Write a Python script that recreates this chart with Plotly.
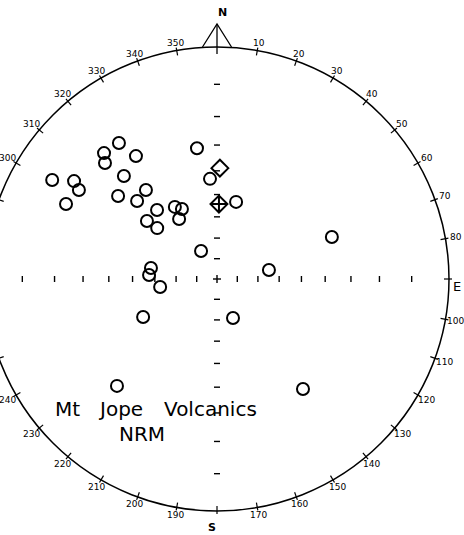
import numpy as np
import plotly.graph_objects as go

# ---- data: NRM directions (declination, inclination, degrees) ----
site_dec = [324.2, 318.1, 316.0, 326.6, 351.3, 301.0, 304.4, 302.8, 317.9, 321.4,
            296.4, 310.0, 314.3, 319.0, 329.7, 333.4, 327.7, 309.6, 310.4, 356.0,
            13.9, 330.3, 279.5, 273.4, 262.0, 242.8, 157.7, 69.9, 80.2, 223.1, 142.0]
site_inc = [18.3, 17.8, 20.4, 25.2, 30.6, 10.7, 16.5, 19.4, 28.2, 37.7,
            18.0, 31.8, 38.6, 47.0, 50.4, 52.7, 56.0, 47.2, 52.6, 43.2,
            52.2, 74.2, 57.8, 57.3, 62.2, 50.6, 69.4, 34.4, 64.4, 25.5, 27.9]
field_dec = [1.5]      # open diamond
field_inc = [38.9]
mean_dec = [1.5]       # diamond with cross
mean_inc = [54.2]
azimuth_ticks = list(range(10, 360, 10))
azimuth_labels = [str(a) for a in azimuth_ticks]
incl_ticks = [10, 20, 30, 40, 50, 60, 70, 80]

# ---- geometry (stereographic / Wulff net) ----
PX = 232.0                     # pixels per unit radius
CX, CY = 217.0, 279.0          # centre in pixels
W, H = 464, 535


def proj(dec, inc):
    d = np.radians(np.asarray(dec, float))
    r = np.tan(np.radians(90.0 - np.asarray(inc, float)) / 2.0)
    return r * np.sin(d), r * np.cos(d)


def px(x, y):
    return (x - CX) / PX, (CY - y) / PX


fig = go.Figure()

# primitive circle
fig.add_shape(type="circle", x0=-1, y0=-1, x1=1, y1=1,
              line=dict(color="black", width=1.5), layer="below")

# azimuth ticks on the primitive
tx, ty = [], []
for a in azimuth_ticks:
    t = np.radians(a)
    r0, r1 = 1 - 5 / PX, 1 + 3 / PX
    tx += [r0 * np.sin(t), r1 * np.sin(t), None]
    ty += [r0 * np.cos(t), r1 * np.cos(t), None]
fig.add_trace(go.Scatter(x=tx, y=ty, mode="lines", line=dict(color="black", width=1.2),
                         hoverinfo="skip", showlegend=False))

# inclination ticks along the axes
ax_x, ax_y = [], []
h = 3 / PX
for i in incl_ticks:
    r = float(np.tan(np.radians(90 - i) / 2))
    for s in (1, -1):
        ax_x += [-h, h, None]
        ax_y += [s * r, s * r, None]
        ax_x += [s * r, s * r, None]
        ax_y += [-h, h, None]
c = 4 / PX
ax_x += [-c, c, None, 0, 0, None]
ax_y += [0, 0, None, -c, c, None]
fig.add_trace(go.Scatter(x=ax_x, y=ax_y, mode="lines", line=dict(color="black", width=1.4),
                         hoverinfo="skip", showlegend=False))

# north arrow triangle
b = 14.5 / PX
apex = 1 + 23 / PX
fig.add_trace(go.Scatter(x=[-b, 0, b, None, 0, 0], y=[1, apex, 1, None, apex, 1 - 7 / PX],
                         mode="lines", line=dict(color="black", width=1.3),
                         hoverinfo="skip", showlegend=False))

# data
sx, sy = proj(site_dec, site_inc)
fig.add_trace(go.Scatter(x=sx, y=sy, mode="markers", showlegend=False,
                         marker=dict(symbol="circle-open", size=12, color="black",
                                     line=dict(width=2, color="black"))))
fx, fy = proj(field_dec, field_inc)
fig.add_trace(go.Scatter(x=fx, y=fy, mode="markers", showlegend=False,
                         marker=dict(symbol="diamond-open", size=13, color="black",
                                     line=dict(width=2, color="black"))))
mx, my = proj(mean_dec, mean_inc)
fig.add_trace(go.Scatter(x=mx, y=my, mode="markers", showlegend=False,
                         marker=dict(symbol="diamond-cross-open", size=13, color="black",
                                     line=dict(width=2, color="black"))))

# azimuth labels
ann = []
for a, lab in zip(azimuth_ticks, azimuth_labels):
    if a % 90 == 0:
        continue
    t = np.radians(a)
    off = (6.5 + 4 * abs(np.sin(t))) / PX
    rr = 1 + off
    ann.append(dict(x=rr * np.sin(t), y=rr * np.cos(t), text=lab, showarrow=False,
                    xanchor="center", yanchor="middle",
                    font=dict(family="DejaVu Sans", size=9, color="black")))

x, y = px(222, 12)
ann.append(dict(x=x, y=y, text="<b>N</b>", showarrow=False,
                font=dict(family="DejaVu Sans", size=11, color="black")))
x, y = px(457, 286)
ann.append(dict(x=x, y=y, text="E", showarrow=False,
                font=dict(family="DejaVu Sans", size=13, color="black")))
x, y = px(212, 527)
ann.append(dict(x=x, y=y, text="<b>S</b>", showarrow=False,
                font=dict(family="DejaVu Sans", size=11, color="black")))

title_font = dict(family="DejaVu Sans", size=20, color="black")
for txt, xp in (("Mt", 67), ("Jope", 120), ("Volcanics", 210)):
    x, y = px(xp, 409)
    ann.append(dict(x=x, y=y, text=txt, showarrow=False,
                    xanchor="center", yanchor="middle", font=title_font))
x, y = px(142, 434)
ann.append(dict(x=x, y=y, text="NRM", showarrow=False,
                xanchor="center", yanchor="middle", font=title_font))

fig.update_layout(
    width=W, height=H,
    margin=dict(l=0, r=0, t=0, b=0),
    paper_bgcolor="white", plot_bgcolor="white",
    annotations=ann,
    xaxis=dict(range=[-CX / PX, (W - CX) / PX], visible=False, fixedrange=True),
    yaxis=dict(range=[-(H - CY) / PX, CY / PX], visible=False, fixedrange=True),
)

fig.write_html("out.html", config={"displayModeBar": False},
               post_script="document.body.style.margin='0px';document.body.style.overflow='hidden';")
